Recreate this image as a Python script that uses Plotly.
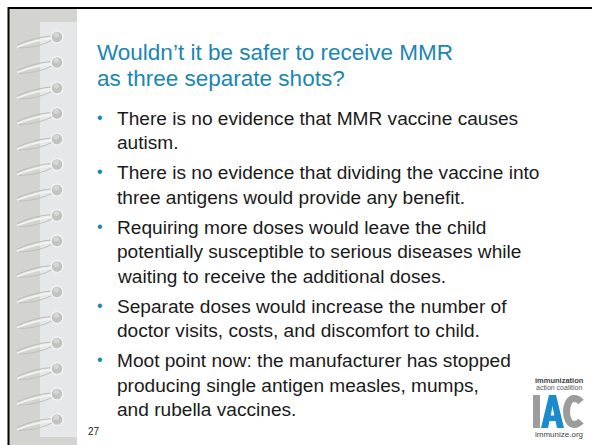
import plotly.graph_objects as go

W, H = 592, 445

title_lines = ["Wouldn\u2019t it be safer to receive MMR", "as three separate shots?"]
bullets = [
    ["There is no evidence that MMR vaccine causes", "autism."],
    ["There is no evidence that dividing the vaccine into", "three antigens would provide any benefit."],
    ["Requiring more doses would leave the child",
     "potentially susceptible to serious diseases while",
     "waiting to receive the additional doses."],
    ["Separate doses would increase the number of",
     "doctor visits, costs, and discomfort to child."],
    ["Moot point now: the manufacturer has stopped",
     "producing single antigen measles, mumps,",
     "and rubella vaccines."],
]
page_number = "27"
ring_count = 16
logo_top = ["immunization", "action coalition"]
logo_bottom = "immunize.org"

TITLE_COLOR = "#1a86b2"
BULLET_COLOR = "#1a86b2"
TEXT_COLOR = "#1a1a1a"
FONT = "Arial, Liberation Sans, sans-serif"

fig = go.Figure()
shapes = []
ann = []

# frame background strips
shapes.append(dict(type="rect", x0=9, x1=77, y0=8, y1=H, fillcolor="#d3d3cf", line_width=0, layer="below"))
shapes.append(dict(type="rect", x0=40, x1=77, y0=22, y1=437, fillcolor="#e5e7e9", line_width=0, layer="below"))
# black edges
shapes.append(dict(type="line", x0=8, x1=W, y0=8, y1=8, line=dict(color="#000", width=2)))
shapes.append(dict(type="line", x0=8.5, x1=8.5, y0=7, y1=H, line=dict(color="#000", width=2)))

# spiral rings
for i in range(ring_count):
    cy = 37 + i * 25.5
    cx = 57
    shapes.append(dict(type="path",
                       path=f"M {cx-4},{cy+1} Q {cx-22},{cy+3} {cx-40},{cy+10}",
                       line=dict(color="#f2f2f2", width=1.8)))
    shapes.append(dict(type="path",
                       path=f"M {cx-4},{cy+3} Q {cx-20},{cy+11} {cx-38},{cy+11}",
                       line=dict(color="#c0c0bc", width=1)))
    shapes.append(dict(type="path",
                       path=f"M {cx-5},{cy-1} Q {cx-22},{cy} {cx-40},{cy+8}",
                       line=dict(color="#bcbcb8", width=1)))
    shapes.append(dict(type="circle", x0=cx-6, x1=cx+6, y0=cy-6, y1=cy+6,
                       fillcolor="#c2c2c0", line=dict(color="#f2f2f2", width=1.5)))
    shapes.append(dict(type="circle", x0=cx-3.5, x1=cx+2, y0=cy-4.5, y1=cy+0.5,
                       fillcolor="#d6d6d4", line_width=0))

# title
for j, t in enumerate(title_lines):
    ann.append(dict(x=95, y=52 + j * 26, text=t, xanchor="left", yanchor="middle",
                    showarrow=False, font=dict(family=FONT, size=22.5, color=TITLE_COLOR)))

# bullets
y = 118
for b in bullets:
    ann.append(dict(x=100, y=y - 1, text="\u2022", xanchor="center", yanchor="middle",
                    showarrow=False, font=dict(family=FONT, size=16, color=BULLET_COLOR)))
    for k, line in enumerate(b):
        ann.append(dict(x=115, y=y + k * 24.5, text=line, xanchor="left", yanchor="middle",
                        showarrow=False, font=dict(family=FONT, size=19.1, color=TEXT_COLOR)))
    y += len(b) * 24.5 + 5.5

# page number
ann.append(dict(x=86, y=431, text=page_number, xanchor="left", yanchor="middle",
                showarrow=False, font=dict(family=FONT, size=10, color="#222")))

# logo
ann.append(dict(x=559, y=380, text="<b>" + logo_top[0] + "</b>", xanchor="center", yanchor="middle",
                showarrow=False, font=dict(family=FONT, size=7.5, color="#444")))
ann.append(dict(x=559, y=387.5, text=logo_top[1], xanchor="center", yanchor="middle",
                showarrow=False, font=dict(family=FONT, size=7, color="#555")))
ann.append(dict(x=559, y=434, text=logo_bottom, xanchor="center", yanchor="middle",
                showarrow=False, font=dict(family=FONT, size=8, color="#444")))
# I
shapes.append(dict(type="rect", x0=533, x1=540, y0=395, y1=428, fillcolor="#9c9c9c", line_width=0))
# A
shapes.append(dict(type="path",
                   path="M 541,428 L 549,395 L 556,395 L 564,428 L 557,428 L 555.5,421 L 549.5,421 L 548,428 Z "
                        "M 550.7,415.5 L 554.3,415.5 L 552.5,406 Z",
                   fillcolor="#1a8bcf", line_width=0))
# C
shapes.append(dict(type="path",
                   path="M 581,402 C 579,399.5 576.5,398.5 574,398.5 "
                        "C 569.5,398.5 566.5,404.5 566.5,411.5 "
                        "C 566.5,418.5 569.5,424.5 574,424.5 "
                        "C 576.5,424.5 579,423.5 581,421",
                   line=dict(color="#9c9c9c", width=7)))

fig.update_layout(
    width=W, height=H, margin=dict(l=0, r=0, t=0, b=0),
    paper_bgcolor="white", plot_bgcolor="white",
    xaxis=dict(range=[0, W], visible=False, fixedrange=True),
    yaxis=dict(range=[H, 0], visible=False, fixedrange=True),
    shapes=shapes, annotations=ann, showlegend=False,
)
fig.write_html("out.html", config={"displayModeBar": False},
               post_script="document.body.style.margin='0';document.body.style.overflow='hidden';")
